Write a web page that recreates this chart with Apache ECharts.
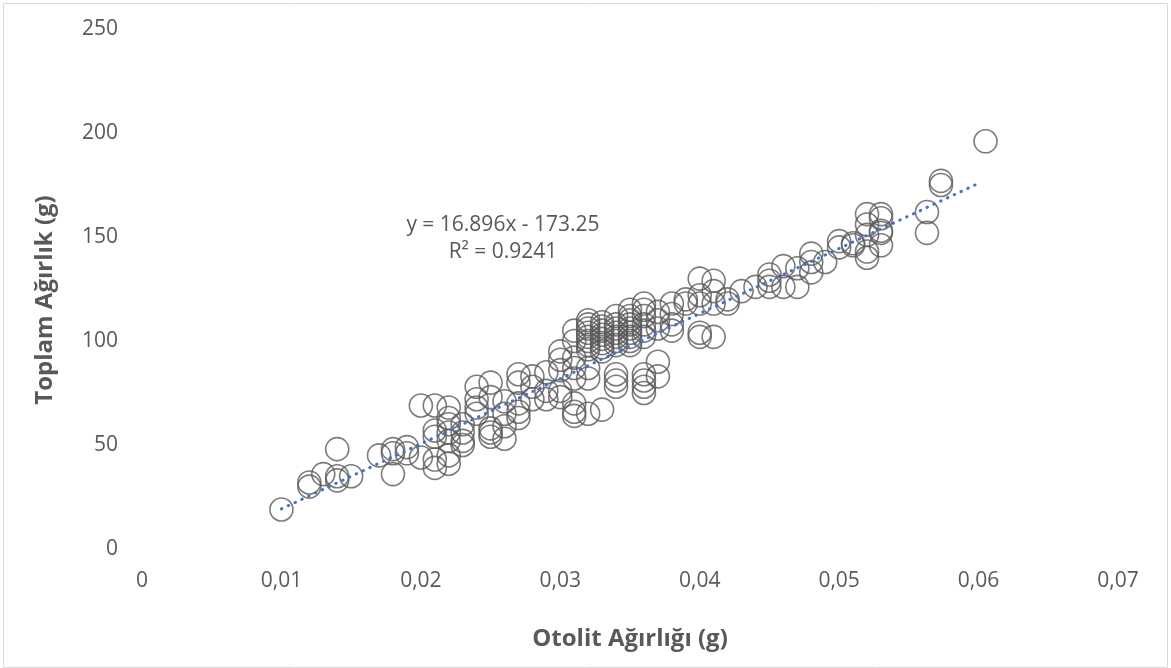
<!DOCTYPE html>
<html>
<head>
<meta charset="utf-8">
<script src="https://cdn.jsdelivr.net/npm/echarts@6/dist/echarts.min.js"></script>
<style>
  html, body { margin: 0; padding: 0; background: #ffffff; }
  #chart { width: 1171px; height: 668px; }
</style>
</head>
<body>
<div id="chart"></div>
<script>
// Otolith weight (g) of each fish
const otolithWeight = [
  0.010,
  0.012, 0.012,
  0.013,
  0.014, 0.014, 0.014,
  0.015,
  0.017,
  0.018, 0.018, 0.018,
  0.019, 0.019,
  0.020, 0.020,
  0.021, 0.021, 0.021, 0.021, 0.021,
  0.022, 0.022, 0.022, 0.022, 0.022, 0.022, 0.022,
  0.023, 0.023, 0.023, 0.023,
  0.024, 0.024, 0.024, 0.024,
  0.025, 0.025, 0.025, 0.025, 0.025,
  0.026, 0.026, 0.026, 0.026,
  0.027, 0.027, 0.027, 0.027, 0.027,
  0.028, 0.028, 0.028,
  0.029, 0.029, 0.029,
  0.030, 0.030, 0.030, 0.030, 0.030,
  0.031, 0.031, 0.031, 0.031, 0.031, 0.031, 0.031, 0.031,
  0.032, 0.032, 0.032, 0.032, 0.032, 0.032, 0.032, 0.032, 0.032, 0.032, 0.032,
  0.033, 0.033, 0.033, 0.033, 0.033, 0.033, 0.033, 0.033, 0.033,
  0.034, 0.034, 0.034, 0.034, 0.034, 0.034, 0.034, 0.034, 0.034, 0.034,
  0.035, 0.035, 0.035, 0.035, 0.035, 0.035, 0.035, 0.035, 0.035,
  0.036, 0.036, 0.036, 0.036, 0.036, 0.036, 0.036, 0.036, 0.036, 0.036,
  0.037, 0.037, 0.037, 0.037, 0.037,
  0.038, 0.038, 0.038, 0.038,
  0.039, 0.039,
  0.040, 0.040, 0.040, 0.040, 0.040,
  0.041, 0.041, 0.041, 0.041,
  0.042, 0.042,
  0.043,
  0.044,
  0.045, 0.045, 0.045,
  0.046, 0.046,
  0.047, 0.047,
  0.048, 0.048, 0.048,
  0.049,
  0.050, 0.050,
  0.051, 0.051,
  0.052, 0.052, 0.052, 0.052, 0.052,
  0.053, 0.053, 0.053, 0.053, 0.053,
  0.0563, 0.0563,
  0.0573, 0.0573,
  0.0605
];

// Total weight (g) of each fish, same order as above
const totalWeight = [
  19,
  32, 30,
  36,
  48, 35, 33,
  35,
  45,
  48, 46, 36,
  49, 46,
  69, 44,
  69, 57, 54, 43, 39,
  68, 63, 60, 56, 52, 45, 41,
  60, 56, 52, 50,
  78, 72, 68, 65,
  80, 73, 58, 56, 54,
  71, 65, 59, 53,
  84, 80, 70, 66, 63,
  83, 78, 72,
  85, 76, 72,
  95, 91, 86, 76, 73,
  105, 100, 92, 87, 82, 70, 66, 64,
  110, 108, 106, 104, 102, 100, 98, 96, 87, 82, 65,
  109, 107, 105, 103, 101, 99, 97, 95, 67,
  112, 108, 106, 104, 102, 100, 98, 84, 81, 78,
  115, 112, 110, 108, 106, 104, 102, 100, 98,
  118, 115, 112, 108, 105, 102, 84, 81, 78, 75,
  114, 110, 106, 90, 83,
  118, 113, 108, 105,
  120, 118,
  130, 122, 118, 104, 102,
  129, 124, 118, 102,
  120, 118,
  124,
  126,
  132, 129, 126,
  136, 126,
  135, 126,
  142, 138, 133,
  138,
  148, 145,
  147, 146,
  161, 156, 151, 143, 140,
  161, 159, 153, 152, 146,
  162, 152,
  177, 175,
  196
];

// Linear trend line end points (x in g, y in g)
const trendX = [0.010, 0.060];
const trendY = [19.3, 175.8];

// Axis tick values
const xTicks = [0, 0.01, 0.02, 0.03, 0.04, 0.05, 0.06, 0.07];
const yTicks = [0, 50, 100, 150, 200, 250];

// Axis titles and trend line equation text
const xTitle = 'Otolit Ağırlığı (g)';
const yTitle = 'Toplam Ağırlık (g)';
const equationLines = ['y = 16.896x - 173.25', 'R² = 0.9241'];

const textColor = '#595959';
const baseFont = "'Open Sans', 'Noto Sans', sans-serif";

const points = otolithWeight.map((x, i) => [x, totalWeight[i]]);
const trend = trendX.map((x, i) => [x, trendY[i]]);

const chart = echarts.init(document.getElementById('chart'), null, { renderer: 'canvas' });

chart.setOption({
  animation: false,
  backgroundColor: '#ffffff',
  grid: { left: 142, right: 53, top: 29, bottom: 119, containLabel: false },
  xAxis: {
    type: 'value',
    min: xTicks[0],
    max: xTicks[xTicks.length - 1],
    interval: 0.01,
    name: xTitle,
    nameLocation: 'middle',
    nameGap: 78,
    nameTextStyle: { color: textColor, fontSize: 24, fontWeight: 'bold', fontFamily: baseFont },
    axisLine: { show: false },
    axisTick: { show: false },
    splitLine: { show: false },
    axisLabel: {
      color: textColor, fontSize: 21, fontFamily: baseFont, margin: 22,
      formatter: v => (v === 0 ? '0' : v.toFixed(2).replace('.', ','))
    }
  },
  yAxis: {
    type: 'value',
    min: yTicks[0],
    max: yTicks[yTicks.length - 1],
    interval: 50,
    axisLine: { show: false },
    axisTick: { show: false },
    splitLine: { show: false },
    axisLabel: { color: textColor, fontSize: 21, fontFamily: baseFont, margin: 24 }
  },
  series: [
    {
      type: 'scatter',
      data: points,
      symbol: 'circle',
      symbolSize: 23,
      itemStyle: { color: 'rgba(255,255,255,0)', borderColor: '#5a5a5a', borderWidth: 1.6 },
      z: 2
    },
    {
      type: 'line',
      data: trend,
      symbol: 'none',
      lineStyle: { color: '#4472C4', width: 3, type: [0.5, 7], cap: 'round' },
      z: 3
    }
  ],
  graphic: [
    {
      type: 'rect',
      left: 1, top: 1,
      shape: { width: 1164, height: 664 },
      style: { fill: 'none', stroke: '#d9d9d9', lineWidth: 1 },
      silent: true
    },
    {
      // vertical axis title, reading bottom to top
      type: 'text',
      x: 45, y: 300,
      rotation: Math.PI / 2,
      style: { text: yTitle, fill: textColor, font: "bold 24px 'Open Sans', 'Noto Sans', sans-serif", align: 'center', verticalAlign: 'middle' }
    },
    {
      type: 'text',
      x: 503, y: 225,
      style: { text: equationLines[0], fill: textColor, font: "21px 'Open Sans', 'Noto Sans', sans-serif", align: 'center', verticalAlign: 'middle' }
    },
    {
      type: 'text',
      x: 503, y: 252,
      style: { text: equationLines[1], fill: textColor, font: "21px 'Open Sans', 'Noto Sans', sans-serif", align: 'center', verticalAlign: 'middle' }
    }
  ]
});
</script>
</body>
</html>
